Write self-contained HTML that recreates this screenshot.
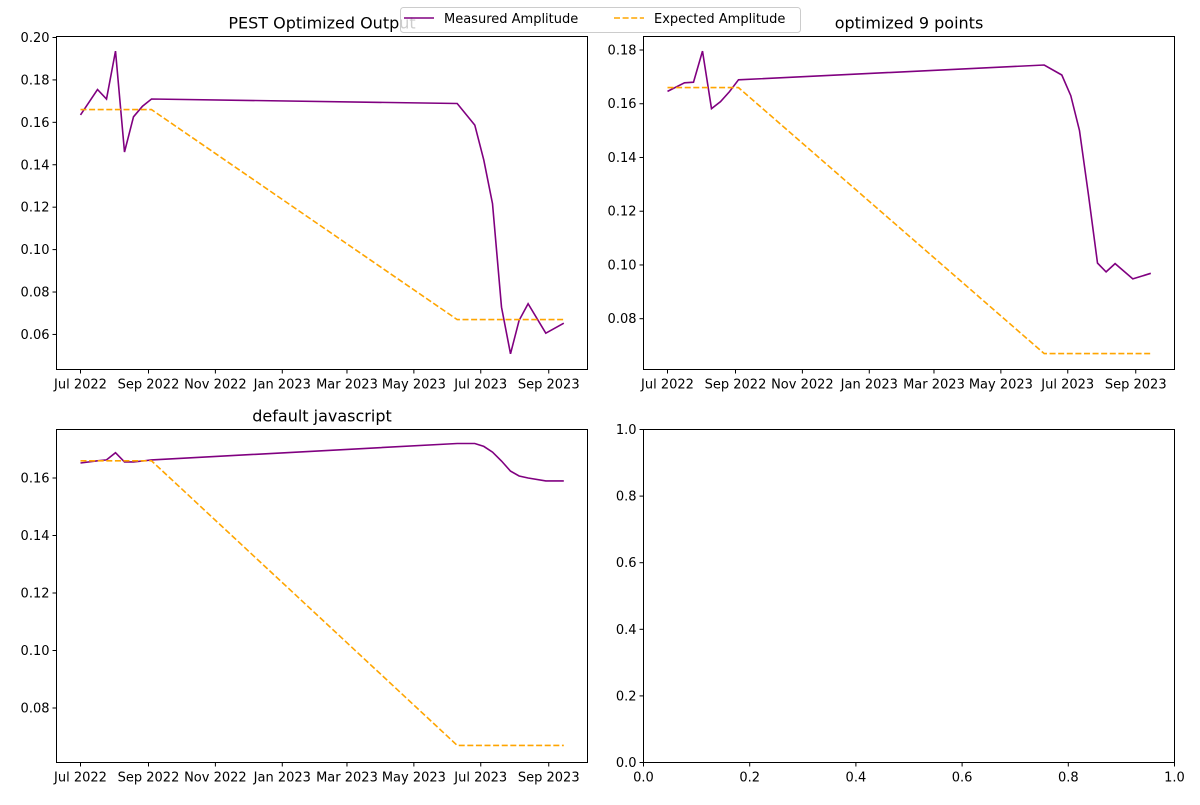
<!DOCTYPE html>
<html><head><meta charset="utf-8"><style>
body{margin:0;background:#fff;}
svg text{font-family:"DejaVu Sans","Liberation Sans",sans-serif;fill:#000;}
</style></head><body>
<svg id="fig" width="1200" height="800" xmlns="http://www.w3.org/2000/svg"></svg>
<script>
// data arrays
const dayOffsets = [0,15.5,23.7,31.9,40.1,48.3,56.5,64.7,343.5,359.6,367.8,375.7,383.9,392.1,400,408.2,424.3,440.7];
const pestMeasured = [0.1635,0.1755,0.171,0.1936,0.146,0.1626,0.1676,0.171,0.1689,0.1587,0.1422,0.1217,0.0729,0.0509,0.0666,0.0745,0.0606,0.0653];
const pestExpected = [0.166,0.166,0.166,0.166,0.166,0.166,0.166,0.166,0.067,0.067,0.067,0.067,0.067,0.067,0.067,0.067,0.067,0.067];
const nineMeasured = [0.1646,0.1678,0.168,0.1796,0.1582,0.1608,0.1645,0.1689,0.1744,0.1707,0.163,0.150,0.126,0.1007,0.0974,0.1005,0.0948,0.0969];
const nineExpected = [0.166,0.166,0.166,0.166,0.166,0.166,0.166,0.166,0.067,0.067,0.067,0.067,0.067,0.067,0.067,0.067,0.067,0.067];
const jsMeasured = [0.1652,0.166,0.1663,0.1688,0.1656,0.1656,0.1659,0.1663,0.172,0.172,0.171,0.169,0.1659,0.1624,0.1607,0.160,0.159,0.159];
const jsExpected = [0.166,0.166,0.166,0.166,0.166,0.166,0.166,0.166,0.067,0.067,0.067,0.067,0.067,0.067,0.067,0.067,0.067,0.067];
const xTickLabels = ["Jul 2022","Sep 2022","Nov 2022","Jan 2023","Mar 2023","May 2023","Jul 2023","Sep 2023"];
const xTickDays = [0,62,123,184,243,304,365,427];
const pestYTicks = [0.06,0.08,0.10,0.12,0.14,0.16,0.18,0.20];
const nineYTicks = [0.08,0.10,0.12,0.14,0.16,0.18];
const jsYTicks = [0.08,0.10,0.12,0.14,0.16];
const emptyTicks = [0,0.2,0.4,0.6,0.8,1.0];

const NS="http://www.w3.org/2000/svg";
const svg=document.getElementById('fig');
function mk(tag,attrs,parent){const e=document.createElementNS(NS,tag);for(const k in attrs)e.setAttribute(k,attrs[k]);(parent||svg).appendChild(e);return e;}

function panel(name,x0,y0,w,h,title,xdom,ydom,xt,xl,yt,measured,expected,dec){
  const g=mk('g',{});
  
  
  const xs=v=>x0+(v-xdom[0])/(xdom[1]-xdom[0])*w;
  const ys=v=>y0+h-(v-ydom[0])/(ydom[1]-ydom[0])*h;
  if(title){const t=mk('text',{x:x0+w/2,y:y0-8,'text-anchor':'middle','font-size':'16'},g);t.textContent=title;
    }
  xt.forEach((v,i)=>{const x=xs(v);mk('line',{x1:x,x2:x,y1:y0+h,y2:y0+h+4,stroke:'#000','stroke-width':1},g);
    const t=mk('text',{x:x,y:y0+h+19,'text-anchor':'middle','font-size':'13'},g);t.textContent=xl[i];
    });
  yt.forEach(v=>{const y=ys(v);mk('line',{x1:x0-4,x2:x0,y1:y,y2:y,stroke:'#000','stroke-width':1},g);
    const t=mk('text',{x:x0-7,y:y+4.5,'text-anchor':'end','font-size':'13'},g);t.textContent=v.toFixed(dec);
    });
  const clip='c'+name;const cp=mk('clipPath',{id:clip},g);mk('rect',{x:x0,y:y0,width:w,height:h},cp);
  if(measured){
    const pm=dayOffsets.map((d,i)=>xs(d).toFixed(1)+','+ys(measured[i]).toFixed(1)).join(' ');
    const l1=mk('polyline',{points:pm,fill:'none',stroke:'purple','stroke-width':1.6,'clip-path':'url(#'+clip+')'},g);
    
    const pe=dayOffsets.map((d,i)=>xs(d).toFixed(1)+','+ys(expected[i]).toFixed(1)).join(' ');
    const l2=mk('polyline',{points:pe,fill:'none',stroke:'orange','stroke-width':1.6,'stroke-dasharray':'6,2.6','clip-path':'url(#'+clip+')'},g);
    
  }
  mk('rect',{x:x0,y:y0,width:w,height:h,fill:'none',stroke:'#000','stroke-width':1},g);
}
const xdom=[-24/1.0966,(531-24)/1.0966];
panel('pest-optimized-panel',56.5,36.5,531,333,'PEST Optimized Output',xdom,[0.06-(334-369)*0.02/42.36*-1,0.06+(334-36.5)*0.02/42.36],xTickDays,xTickLabels,pestYTicks,pestMeasured,pestExpected,2);
panel('optimized-9-points-panel',643.5,36.5,531,333,'optimized 9 points',xdom,[0.08-(369.5-318.7)*0.02/53.74,0.08+(318.7-36.5)*0.02/53.74],xTickDays,xTickLabels,nineYTicks,nineMeasured,nineExpected,2);
panel('default-javascript-panel',56.5,429.5,531,333,'default javascript',xdom,[0.08-(762.5-708)*0.02/57.5,0.08+(708-429.5)*0.02/57.5],xTickDays,xTickLabels,jsYTicks,jsMeasured,jsExpected,2);
panel('empty-panel',643.5,429.5,531,333,'',[0,1],[0,1],emptyTicks,emptyTicks.map(v=>v.toFixed(1)),emptyTicks,null,null,1);

// legend
const lg=mk('g',{});


mk('rect',{x:400.5,y:7.5,width:400,height:25,rx:3,fill:'#fff','fill-opacity':0.8,stroke:'#ccc'},lg);
mk('line',{x1:404,x2:434,y1:18,y2:18,stroke:'purple','stroke-width':1.6},lg);
const t1=mk('text',{x:444,y:23,'font-size':'13'},lg);t1.textContent='Measured Amplitude';


mk('line',{x1:614,x2:644,y1:18,y2:18,stroke:'orange','stroke-width':1.6,'stroke-dasharray':'6,2.6'},lg);
const t2=mk('text',{x:654,y:23,'font-size':'13'},lg);t2.textContent='Expected Amplitude';


</script>
</body></html>
